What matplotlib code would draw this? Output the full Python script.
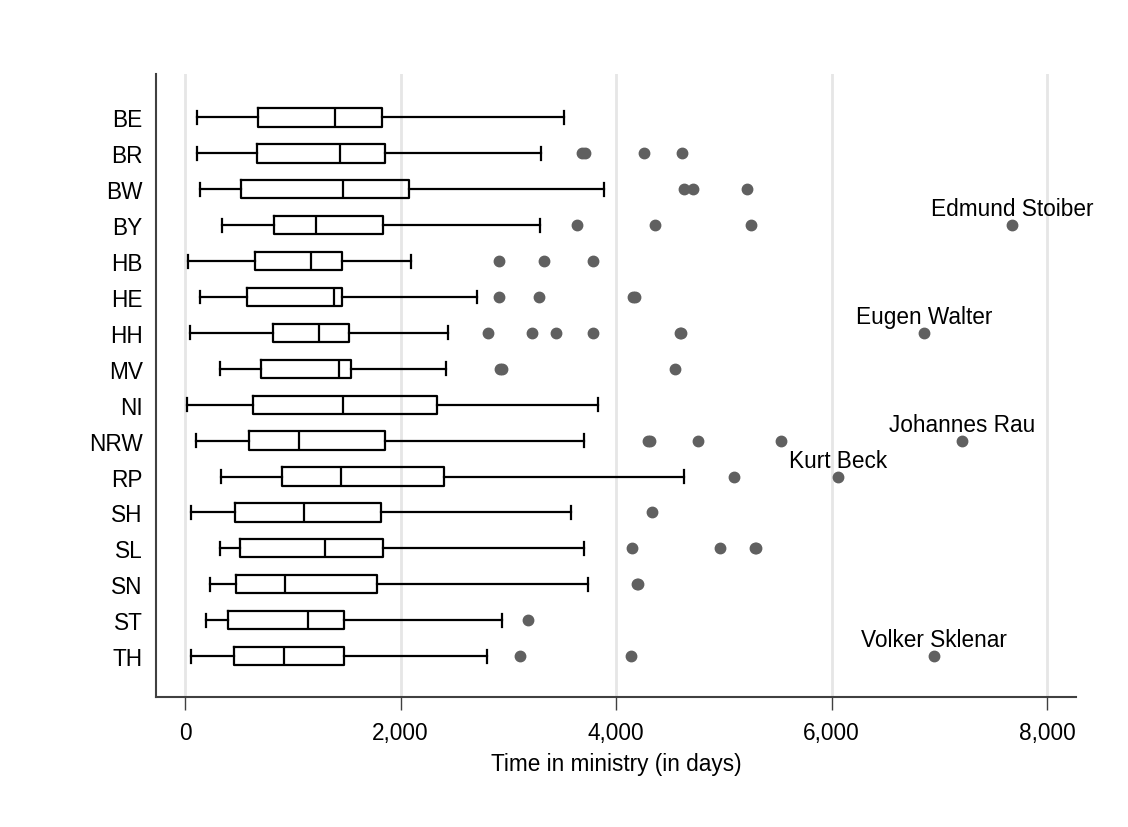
import matplotlib
matplotlib.use('Agg')
import matplotlib.pyplot as plt
from matplotlib.ticker import FuncFormatter

plt.rcParams['font.family'] = ['Liberation Sans', 'DejaVu Sans']

# ==========================================
# Datos
# ==========================================
estados = ['BE', 'BR', 'BW', 'BY', 'HB', 'HE', 'HH', 'MV',
           'NI', 'NRW', 'RP', 'SH', 'SL', 'SN', 'ST', 'TH']
whis_low = [111, 111, 136, 346, 25, 136, 43, 325, 15, 99, 334, 59, 328, 229, 195, 59]
q1 = [680, 668, 519, 825, 652, 575, 813, 705, 628, 590, 896, 461, 513, 476, 399, 454]
mediana = [1388, 1437, 1465, 1218, 1169, 1385, 1243, 1431, 1465, 1060, 1447, 1104, 1295, 930, 1138, 918]
q3 = [1830, 1852, 2077, 1836, 1459, 1459, 1524, 1543, 2334, 1852, 2399, 1818, 1836, 1781, 1478, 1478]
whis_high = [3520, 3304, 3887, 3297, 2096, 2711, 2442, 2420, 3830, 3703, 4628, 3580, 3703, 3743, 2940, 2798]
atipicos = [
    [],
    [3680, 3713, 4259, 4609],
    [4635, 4715, 5218],
    [3637, 4366, 5248, 7677],
    [2912, 3330, 3786],
    [2918, 3289, 4160, 4172],
    [2807, 3218, 3443, 3786, 4595, 4607, 6862],
    [2920, 2938, 4545],
    [],
    [4293, 4319, 4762, 5533, 7208],
    [5095, 6060],
    [4329],
    [4149, 4968, 5290, 5298],
    [4198, 4208],
    [3180],
    [3108, 4142, 6953],
]
# Etiquetas de ministros destacados: (estado, dias, nombre)
nombres = [('BY', 7677, 'Edmund Stoiber'),
           ('HH', 6862, 'Eugen Walter'),
           ('NRW', 7208, 'Johannes Rau'),
           ('RP', 6060, 'Kurt Beck'),
           ('TH', 6953, 'Volker Sklenar')]

# ==========================================
# Grafico
# ==========================================
stats = []
for i, e in enumerate(estados):
    stats.append(dict(label=e, whislo=whis_low[i], q1=q1[i], med=mediana[i],
                      q3=q3[i], whishi=whis_high[i], fliers=atipicos[i]))

fig = plt.figure(figsize=(11.28, 8.28), dpi=100)
ax = fig.add_axes([0.1383, 0.157, 0.8157, 0.752])

posiciones = list(range(1, len(estados) + 1))
linea = dict(color='black', linewidth=1.6)
ax.bxp(stats, positions=posiciones, orientation='horizontal', widths=0.51,
       capwidths=0.36, boxprops=linea, whiskerprops=linea, capprops=linea,
       medianprops=linea,
       flierprops=dict(marker='o', markerfacecolor='#606060',
                       markeredgecolor='#606060', markersize=7.5),
       manage_ticks=False, zorder=3)

fs = 16.3
for estado, dias, nombre in nombres:
    y = posiciones[estados.index(estado)]
    ax.annotate(nombre, (dias, y), xytext=(0, 7), textcoords='offset points',
                ha='center', va='baseline', fontsize=fs)

ax.set_yticks(posiciones)
ax.set_yticklabels(estados, fontsize=fs)
ax.set_ylim(17.14, -0.2)
ax.set_xlim(-270, 8270)
ax.set_xticks([0, 2000, 4000, 6000, 8000])
ax.xaxis.set_major_formatter(FuncFormatter(lambda v, p: f'{int(v):,}'))
ax.tick_params(axis='x', labelsize=fs, length=9, width=1, color='#404040', pad=8)
ax.tick_params(axis='y', length=0, pad=9.5)
ax.set_xlabel('Time in ministry (in days)', fontsize=fs, labelpad=6)

ax.grid(axis='x', color='#e6e6e6', linewidth=2, zorder=0)
ax.set_axisbelow(True)
for lado in ['top', 'right']:
    ax.spines[lado].set_visible(False)
for lado in ['left', 'bottom']:
    ax.spines[lado].set_color('#404040')
    ax.spines[lado].set_linewidth(1.5)

plt.savefig('out.png', dpi=100)
